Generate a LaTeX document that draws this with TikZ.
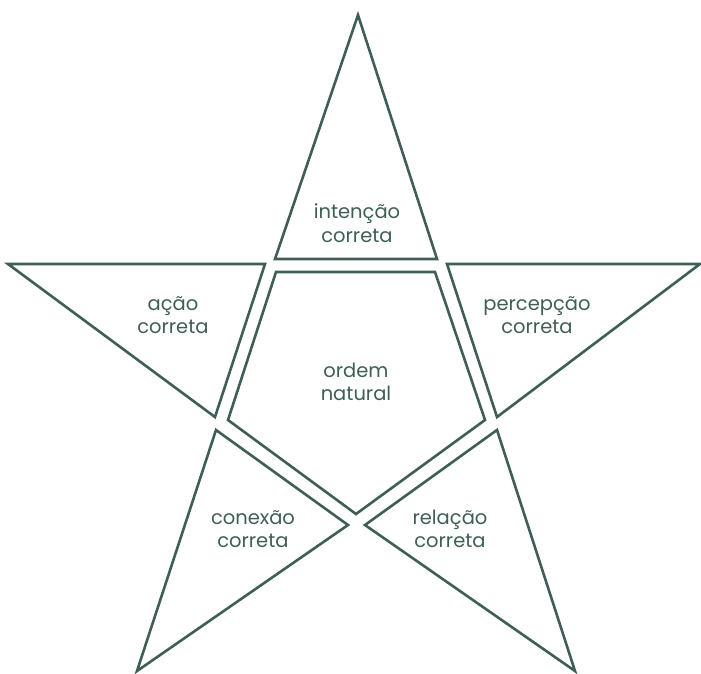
\documentclass[tikz,border=0pt]{standalone}
\usepackage{fontspec}
\setmainfont{Poppins}
\definecolor{ink}{HTML}{3F5E57}
\begin{document}
\begin{tikzpicture}[x=1pt,y=-1pt,
  arm/.style={draw=ink,line width=2.6pt,line join=miter},
  lbl/.style={text=ink,font=\fontsize{19.5}{23.5}\selectfont,align=center,inner sep=0pt}]
\useasboundingbox (0,0) rectangle (701,673);
% top arm
\draw[arm] (358,15) -- (437,259) -- (275,259) -- cycle;
% left arm
\draw[arm] (8,264) -- (265,264) -- (215,417) -- cycle;
% right arm
\draw[arm] (700,264) -- (447,264) -- (497,417) -- cycle;
% bottom-left arm
\draw[arm] (137,671) -- (216,430) -- (348,525) -- cycle;
% bottom-right arm
\draw[arm] (575,671) -- (497,430) -- (365,525) -- cycle;
% centre pentagon
\draw[arm] (276,272) -- (435,272) -- (485,420) -- (356,514) -- (228,420) -- cycle;
% labels
\node[lbl] (top) at (357,223) {intenção\\correta};
\node[lbl] (left) at (173,315) {ação\\correta};
\node[lbl] (right) at (537,315) {percepção\\correta};
\node[lbl] (centre) at (356,382) {ordem\\natural};
\node[lbl] (bl) at (253,529) {conexão\\correta};
\node[lbl] (br) at (450,529) {relação\\correta};
\end{tikzpicture}
\end{document}
